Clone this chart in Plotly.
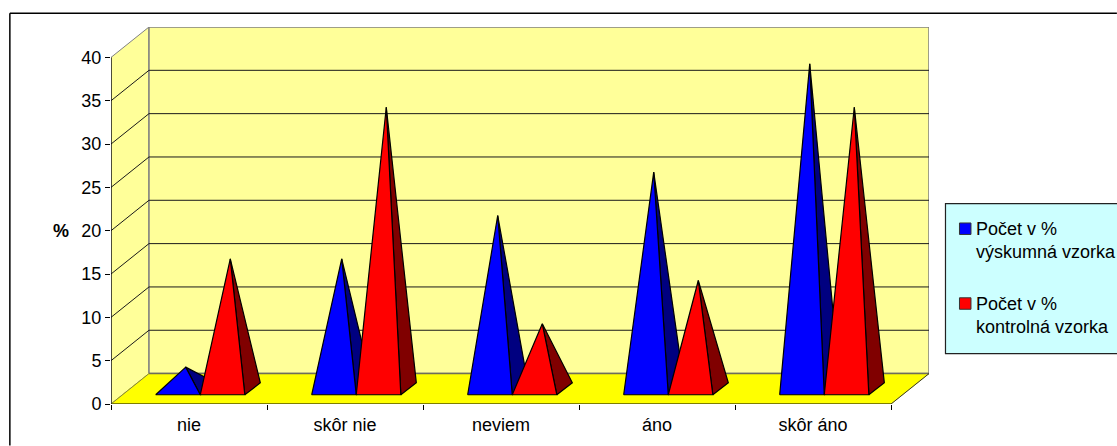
import plotly.graph_objects as go

# ---- data ----
categories = ["nie", "skôr nie", "neviem", "áno", "skôr áno"]
vyskumna = [2.5, 15, 20, 25, 37.5]
kontrolna = [15, 32.5, 7.5, 12.5, 32.5]
y_ticks = [0, 5, 10, 15, 20, 25, 30, 35, 40]
legend_lines = [["Počet v %", "výskumná vzorka"], ["Počet v %", "kontrolná vzorka"]]

# ---- page geometry ----
W, H = 1117, 446
L, R, T, B = 110.5, 188, 26.5, 41.5  # plot-area margins
PW, PH = W - L - R, H - T - B
DEPTH_X, DEPTH_Y = 38.0, 30.5       # floor depth in pixels
CAT_PX = (PW - DEPTH_X) / 5         # width of one category on the front plane
UNIT_PX = (PH - DEPTH_Y) / 40       # pixels per percent
BAR_DX, BAR_DY = 15.5, 12.0         # pyramid depth in pixels
BAR_W = 1 / 3.5                     # pyramid width in category units

dx = DEPTH_X / CAT_PX
dy = DEPTH_Y / UNIT_PX
bdx = BAR_DX / CAT_PX
bdy = BAR_DY / UNIT_PX
n = len(categories)
top = max(y_ticks)
x_max = n + dx
y_max = top + dy

WALL = "#FFFF99"
FLOOR = "#FFFF00"
EDGE = "#808080"
COLORS = [("#0000FF", "#000080"), ("#FF0000", "#800000")]


def poly(xs, ys, fill, line, width=1.0, name=None):
    return go.Scatter(x=xs, y=ys, mode="lines", fill="toself", fillcolor=fill,
                      line=dict(color=line, width=width), hoverinfo="skip",
                      showlegend=False, name=name)


def seg(xs, ys, color, width=1.0):
    return go.Scatter(x=xs, y=ys, mode="lines", line=dict(color=color, width=width),
                      hoverinfo="skip", showlegend=False)


fig = go.Figure()
# walls and floor
fig.add_trace(poly([0, dx, dx, 0, 0], [0, dy, top + dy, top, 0], WALL, EDGE))
fig.add_trace(poly([dx, n + dx, n + dx, dx, dx], [dy, dy, top + dy, top + dy, dy], WALL, EDGE, 1.5))
fig.add_trace(poly([0, n, n + dx, dx, 0], [0, 0, dy, dy, 0], FLOOR, FLOOR))
fig.add_trace(seg([dx, n + dx], [dy, dy], "#6e6e5a", 1.5))
# gridlines
for v in y_ticks[1:-1]:
    fig.add_trace(seg([0, dx, n + dx], [v, v + dy, v + dy], "#1a1a1a", 1))
# axes front edges
fig.add_trace(seg([0, n], [0, 0], "#000000", 1.2))
fig.add_trace(seg([n, n + dx], [0, dy], "#333333", 1))
fig.add_trace(seg([0, dx], [0, dy], "#808040", 1))
fig.add_trace(seg([0, 0], [0, top], "#000000", 1.2))

# pyramids
series = [("Počet v % výskumná vzorka", vyskumna), ("Počet v % kontrolná vzorka", kontrolna)]
for i in range(n):
    for s, (name, values) in enumerate(series):
        front, side = COLORS[s]
        x0 = i + (1 - 2 * BAR_W) / 2 + s * BAR_W + (dx - bdx) / 2
        x1 = x0 + BAR_W
        y0 = (dy - bdy) / 2
        ax = (x0 + x1 + bdx) / 2
        ay = y0 + bdy / 2 + values[i]
        fig.add_trace(poly([x1, x1 + bdx, ax, x1], [y0, y0 + bdy, ay, y0], side, "#000000", 1.2, name))
        fig.add_trace(poly([x0, x1, ax, x0], [y0, y0, ay, y0], front, "#000000", 1.2, name))


def px(x):
    return (x - L) / PW


def py(y):
    return 1 - (y - T) / PH


FONT = "Liberation Sans, Arial, sans-serif"
FS = 18
shapes = [
    # outer chart frame
    dict(type="line", xref="paper", yref="paper", x0=px(9.3), x1=px(9.3), y0=py(12.7), y1=py(446),
         line=dict(color="#000000", width=1.5)),
    dict(type="line", xref="paper", yref="paper", x0=px(9.3), x1=px(1117), y0=py(12.7), y1=py(12.7),
         line=dict(color="#000000", width=1.5)),
    # legend box
    dict(type="rect", xref="paper", yref="paper", x0=px(945.5), x1=px(1125), y0=py(203.5), y1=py(354),
         fillcolor="#CCFFFF", line=dict(color="#222222", width=1.2)),
]
annotations = [
    dict(text="<b>%</b>", xref="paper", yref="paper", x=px(60), y=py(231.5), showarrow=False,
         font=dict(family=FONT, size=FS, color="#000000"), xanchor="center", yanchor="middle"),
]
row_y = [[229, 252], [304, 327]]
square_y = [229, 304]
for s, lines in enumerate(legend_lines):
    shapes.append(dict(type="rect", xref="paper", yref="paper", x0=px(959.5), x1=px(971), y0=py(square_y[s] - 6),
                       y1=py(square_y[s] + 5.5), fillcolor=COLORS[s][0], line=dict(color="#333333", width=1)))
    for txt, yy in zip(lines, row_y[s]):
        annotations.append(dict(text=txt, xref="paper", yref="paper", x=px(976.5), y=py(yy), showarrow=False,
                                xanchor="left", yanchor="middle", borderpad=0, xshift=-1,
                                font=dict(family=FONT, size=FS, color="#000000")))

fig.update_layout(
    width=W, height=H, autosize=False,
    margin=dict(l=L, r=R, t=T, b=B, autoexpand=False),
    paper_bgcolor="#FFFFFF", plot_bgcolor="#FFFFFF",
    showlegend=False, shapes=shapes, annotations=annotations,
    font=dict(family=FONT, size=FS, color="#000000"),
    xaxis=dict(range=[0, x_max], tickmode="array", tickvals=[i + 0.5 for i in range(n)], ticktext=categories,
               ticks="", showgrid=False, zeroline=False, showline=False, tickfont=dict(size=FS),
               ticklabelstandoff=8,
               minor=dict(tickmode="array", tickvals=list(range(n + 1)), ticks="outside", ticklen=5,
                          tickcolor="#000000", tickwidth=1, showgrid=False)),
    yaxis=dict(range=[0, y_max], tickmode="array", tickvals=y_ticks, ticks="outside", ticklen=5,
               tickcolor="#000000", tickwidth=1, showgrid=False, zeroline=False, showline=False,
               tickfont=dict(size=FS)),
)
fig.write_html("out.html", post_script="document.body.style.margin='0';document.body.style.overflow='hidden';",
               config={"displayModeBar": False})
